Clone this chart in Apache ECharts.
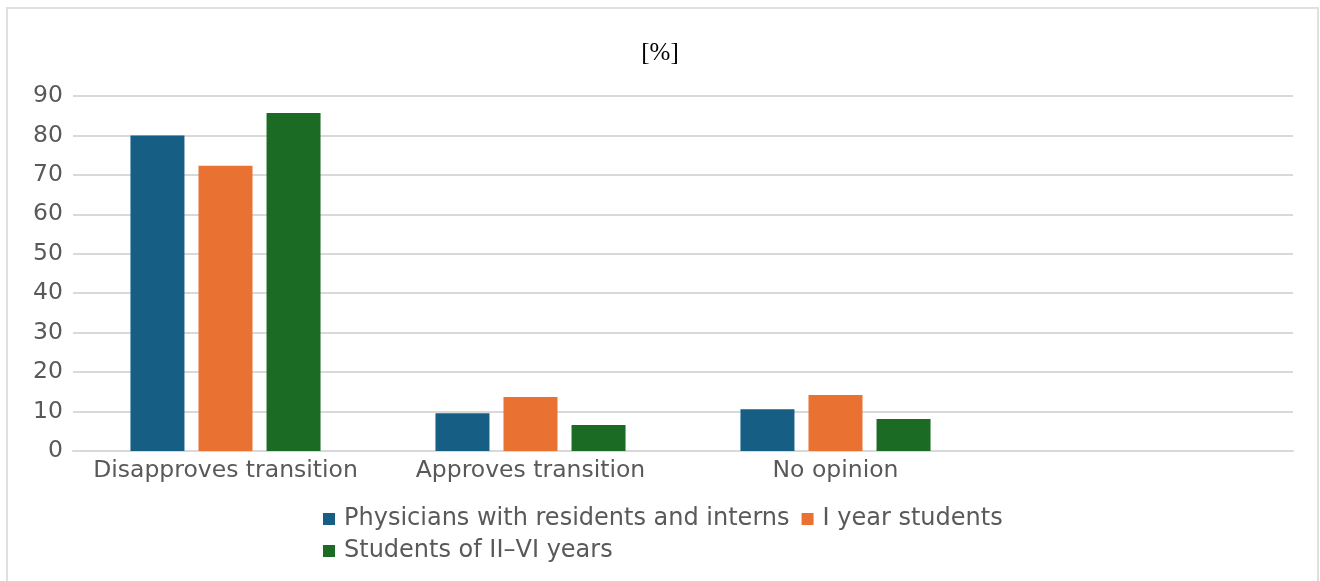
<!DOCTYPE html>
<html>
<head>
<meta charset="utf-8">
<script src="https://cdn.jsdelivr.net/npm/echarts@6/dist/echarts.min.js"></script>
<style>
  html, body { margin: 0; padding: 0; background: #fff; }
  #wrap { position: absolute; left: 6px; top: 7px; width: 1309px; height: 580px; border: 2px solid #e0e0e0; border-bottom: none; }
  #myChart { position: absolute; left: 0; top: 0; width: 1320px; height: 581px; }
</style>
</head>
<body>
<div id="wrap"></div>
<div id="myChart"></div>
<script>
// categories (the 4th slot is empty in the original)
var categories = ['Disapproves transition', 'Approves transition', 'No opinion', ''];
var seriesNames = ['Physicians with residents and interns', 'I year students', 'Students of II\u2013VI years'];
var physicians = [80, 9.6, 10.6, null];
var firstYear = [72.3, 13.7, 14.2, null];
var laterYears = [85.7, 6.6, 8.1, null];
var colors = ['#165e83', '#e97132', '#1b6b24'];

var myChart = echarts.init(document.getElementById('myChart'));
var font = 'DejaVu Sans';
var option = {
  animation: false,
  color: colors,
  title: {
    text: '[%]',
    left: 'center',
    top: 36,
    textStyle: { fontFamily: 'Liberation Serif', fontSize: 25, fontWeight: 'normal', color: '#000' }
  },
  legend: {
    data: seriesNames,
    left: 318,
    top: 502,
    width: 700,
    itemWidth: 12,
    itemHeight: 12,
    itemGap: 8,
    icon: 'rect',
    textStyle: { fontFamily: font, fontSize: 24, lineHeight: 24, color: '#595959', padding: [0, 4, 0, 4] }
  },
  grid: { left: 73, right: 27, top: 96, bottom: 130 },
  xAxis: {
    type: 'category',
    data: categories,
    axisTick: { show: false },
    axisLine: { lineStyle: { color: '#d9d9d9', width: 2 } },
    axisLabel: { fontFamily: font, fontSize: 23.5, color: '#595959', margin: 8, interval: 0, hideOverlap: false }
  },
  yAxis: {
    type: 'value',
    min: 0,
    max: 90,
    interval: 10,
    axisLine: { show: false },
    axisTick: { show: false },
    splitLine: { lineStyle: { color: '#d9d9d9', width: 2 } },
    axisLabel: { fontFamily: font, fontSize: 23.5, color: '#595959', margin: 10 }
  },
  series: [
    { name: seriesNames[0], type: 'bar', data: physicians, barWidth: 54, barGap: '26%' },
    { name: seriesNames[1], type: 'bar', data: firstYear, barWidth: 54, barGap: '26%' },
    { name: seriesNames[2], type: 'bar', data: laterYears, barWidth: 54, barGap: '26%' }
  ]
};
myChart.setOption(option);
</script>
</body>
</html>
